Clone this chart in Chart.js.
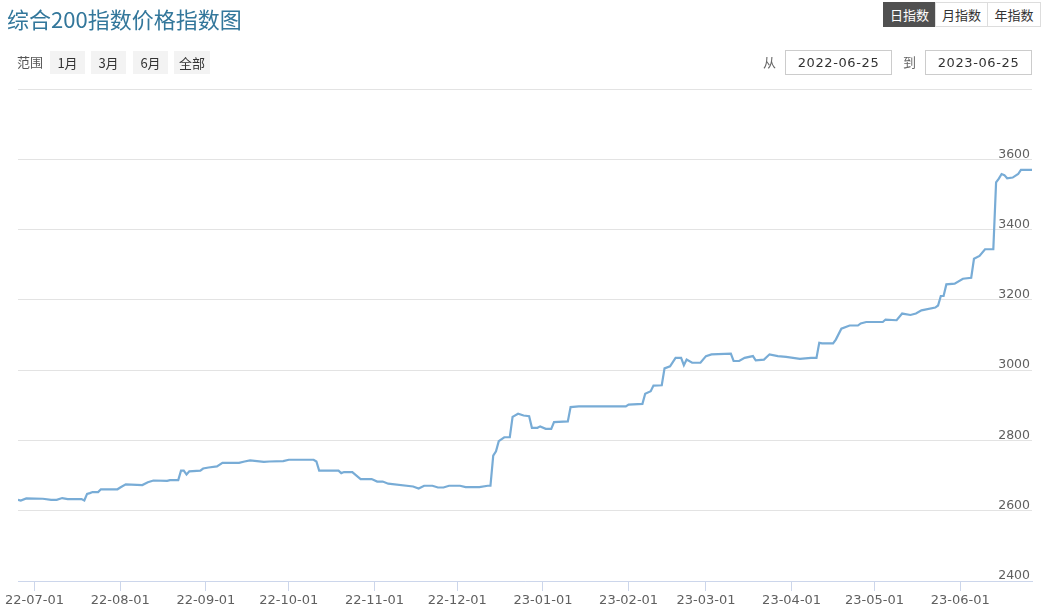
<!DOCTYPE html>
<html><head><meta charset="utf-8">
<script src="https://cdn.jsdelivr.net/npm/chart.js@4.4.0/dist/chart.umd.min.js"></script>
<style>
body{margin:0;background:#fff;width:1049px;height:613px;position:relative;overflow:hidden;font-family:"DejaVu Sans","Noto Sans CJK SC",sans-serif;}
.abs{position:absolute;}
#title{left:7px;top:3px;font-size:22px;color:#33779b;font-family:"Noto Sans CJK SC";line-height:30px;white-space:nowrap;}
.cn{font-family:"Noto Sans CJK SC";}
#rangeLbl{left:17px;top:52px;font-size:13px;color:#555;line-height:20px;}
.rbtn{top:51px;height:23px;background:#f3f3f3;color:#333;font-size:13px;line-height:23px;text-align:center;font-family:"Noto Sans CJK SC";}
.tbtn{top:2px;height:23px;border:1px solid #ddd;background:#fff;color:#333;font-size:13px;line-height:23px;text-align:center;font-family:"Noto Sans CJK SC";box-sizing:content-box;}
.tbtn.on{background:#505050;color:#fff;border-color:#505050;}
.dlbl{top:52px;font-size:13px;color:#666;line-height:20px;font-family:"Noto Sans CJK SC";}
.dbox{top:50px;height:23px;border:1px solid #ccc;color:#333;font-size:13px;line-height:23px;text-align:center;letter-spacing:0.6px;font-family:"DejaVu Sans";}
#c{position:absolute;left:0;top:0;}
</style></head>
<body>
<canvas id="c" width="1049" height="613"></canvas>
<div id="title" class="abs">综合200指数价格指数图</div>
<div id="rangeLbl" class="abs cn">范围</div>
<div class="abs rbtn" style="left:50px;width:35px;">1月</div>
<div class="abs rbtn" style="left:91px;width:35px;">3月</div>
<div class="abs rbtn" style="left:133px;width:35px;">6月</div>
<div class="abs rbtn" style="left:174px;width:36px;">全部</div>
<div class="abs tbtn on" style="left:883px;width:51px;">日指数</div>
<div class="abs tbtn" style="left:935px;width:51px;">月指数</div>
<div class="abs tbtn" style="left:987px;width:52px;">年指数</div>
<div class="abs dlbl" style="left:763px;">从</div>
<div class="abs dbox" style="left:785px;width:105px;">2022-06-25</div>
<div class="abs dlbl" style="left:903px;">到</div>
<div class="abs dbox" style="left:925px;width:105px;">2023-06-25</div>
<script>
const dates = [
'2022-06-25','2022-06-26','2022-06-28','2022-07-04','2022-07-07','2022-07-09','2022-07-11','2022-07-13','2022-07-18','2022-07-19',
'2022-07-20','2022-07-21','2022-07-22','2022-07-24','2022-07-25','2022-07-31','2022-08-01','2022-08-03','2022-08-09','2022-08-11',
'2022-08-13','2022-08-18','2022-08-19','2022-08-22','2022-08-23','2022-08-24','2022-08-25','2022-08-26','2022-08-30','2022-08-31',
'2022-09-02','2022-09-05','2022-09-07','2022-09-13','2022-09-15','2022-09-17','2022-09-22','2022-09-24','2022-09-29','2022-10-01',
'2022-10-10','2022-10-11','2022-10-12','2022-10-19','2022-10-20','2022-10-21','2022-10-24','2022-10-27','2022-10-31','2022-11-02',
'2022-11-04','2022-11-06','2022-11-15','2022-11-17','2022-11-19','2022-11-22','2022-11-24','2022-11-26','2022-11-28','2022-12-02',
'2022-12-04','2022-12-09','2022-12-12','2022-12-13','2022-12-14','2022-12-15','2022-12-16','2022-12-18','2022-12-20','2022-12-21',
'2022-12-23','2022-12-25','2022-12-27','2022-12-28','2022-12-30','2022-12-31','2023-01-02','2023-01-04','2023-01-05','2023-01-10',
'2023-01-11','2023-01-14','2023-01-31','2023-02-01','2023-02-06','2023-02-07','2023-02-09','2023-02-10','2023-02-13','2023-02-14',
'2023-02-16','2023-02-18','2023-02-20','2023-02-21','2023-02-22','2023-02-24','2023-02-27','2023-03-01','2023-03-03','2023-03-10',
'2023-03-11','2023-03-13','2023-03-15','2023-03-18','2023-03-19','2023-03-22','2023-03-24','2023-03-27','2023-03-30','2023-04-04',
'2023-04-08','2023-04-10','2023-04-11','2023-04-12','2023-04-16','2023-04-17','2023-04-19','2023-04-22','2023-04-25','2023-04-26',
'2023-04-28','2023-05-04','2023-05-05','2023-05-09','2023-05-11','2023-05-14','2023-05-16','2023-05-18','2023-05-23','2023-05-24',
'2023-05-25','2023-05-26','2023-05-27','2023-05-30','2023-06-02','2023-06-05','2023-06-06','2023-06-08','2023-06-10','2023-06-13',
'2023-06-14','2023-06-15','2023-06-16','2023-06-17','2023-06-18','2023-06-20','2023-06-22','2023-06-23','2023-06-27'
];
const values = [
2631,2629,2635,2634,2631,2631,2636,2633,2633,2629,
2648,2650,2653,2653,2661,2661,2666,2675,2673,2681,
2686,2685,2687,2687,2714,2714,2703,2712,2714,2720,
2723,2726,2736,2736,2740,2743,2739,2740,2741,2745,
2745,2740,2714,2714,2707,2710,2710,2690,2690,2683,
2683,2677,2669,2663,2671,2671,2666,2666,2671,2671,
2667,2667,2671,2671,2757,2769,2798,2809,2809,2867,
2876,2871,2869,2836,2836,2840,2833,2833,2852,2854,
2895,2897,2897,2902,2904,2933,2940,2956,2957,3005,
3011,3035,3035,3014,3030,3021,3021,3040,3045,3047,
3026,3026,3035,3040,3028,3030,3045,3040,3038,3032,
3035,3035,3078,3076,3076,3087,3118,3127,3127,3133,
3137,3137,3144,3142,3161,3157,3161,3170,3178,3184,
3211,3211,3244,3246,3260,3263,3317,3325,3344,3344,
3534,3545,3558,3555,3546,3548,3558,3570,3570
];
const tickDates = ['2022-07-01','2022-08-01','2022-09-01','2022-10-01','2022-11-01','2022-12-01','2023-01-01','2023-02-01','2023-03-01','2023-04-01','2023-05-01','2023-06-01'];
const tickLabels = ['22-07-01','22-08-01','22-09-01','22-10-01','22-11-01','22-12-01','23-01-01','23-02-01','23-03-01','23-04-01','23-05-01','23-06-01'];
const yMin = 2400, yMax = 3800, yStep = 200;

const base = Date.UTC(2022,5,25);
function dayNum(s){const p=s.split('-').map(Number);return (Date.UTC(p[0],p[1]-1,p[2])-base)/86400000;}
const pts = dates.map((d,i)=>({x:dayNum(d),y:values[i]}));
const tickDays = tickDates.map(dayNum);
const labelMap = {}; tickDays.forEach((d,i)=>labelMap[d]=tickLabels[i]);

Chart.defaults.font.family = '"DejaVu Sans", sans-serif';
new Chart(document.getElementById('c'), {
  type:'line',
  data:{datasets:[{data:pts,borderColor:'#78acd6',borderWidth:2.2,pointRadius:0,tension:0,fill:false}]},
  options:{
    responsive:false,animation:false,
    layout:{padding:{left:18,right:17,top:89,bottom:0}},
    plugins:{legend:{display:false},tooltip:{enabled:false}},
    scales:{
      x:{type:'linear',min:pts[0].x,max:pts[pts.length-1].x,
        afterBuildTicks:(s)=>{s.ticks=tickDays.map(v=>({value:v}));},
        afterFit:(s)=>{s.height=32;},
        grid:{drawOnChartArea:false,drawTicks:true,tickLength:10,color:'#ccd6eb'},
        border:{color:'#ccd6eb'},
        ticks:{autoSkip:false,maxRotation:0,padding:2,color:'#606060',font:{size:13},callback:(v)=>labelMap[v]||''}
      },
      y:{type:'linear',position:'right',min:yMin,max:yMax,
        afterBuildTicks:(s)=>{const t=[];for(let v=yMin;v<=yMax;v+=yStep)t.push({value:v});s.ticks=t;},
        afterFit:(s)=>{s.width=0;},
        grid:{color:'#e3e3e3',drawTicks:false},
        border:{display:false},
        ticks:{mirror:true,padding:-2,labelOffset:-5,color:'#606060',font:{size:12.5},callback:(v)=>v===yMax?'':String(v)}
      }
    }
  }
});
</script>
</body></html>
